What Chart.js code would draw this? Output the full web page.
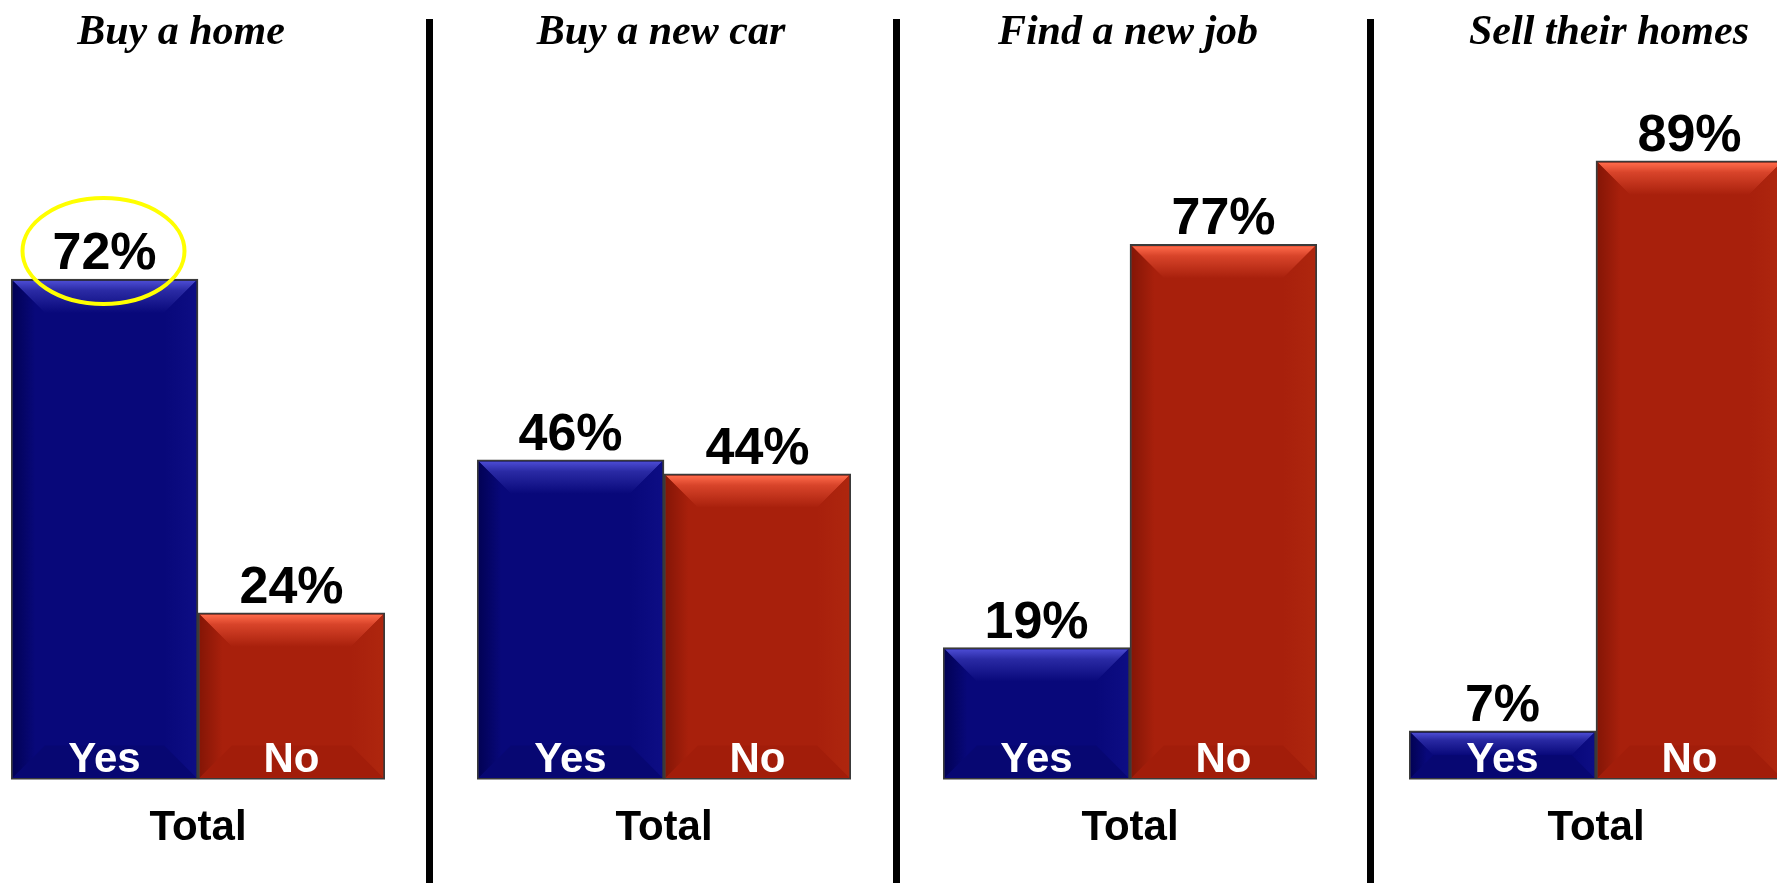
<!DOCTYPE html>
<html>
<head>
<meta charset="utf-8">
<title>Total</title>
<script src="https://cdn.jsdelivr.net/npm/chart.js@4.4.1/dist/chart.umd.min.js"></script>
<style>
  html, body {
    margin: 0;
    padding: 0;
    background: #ffffff;
  }
  #board {
    position: relative;
    width: 1777px;
    height: 883px;
    overflow: hidden;
    background: #ffffff;
  }
  .panel {
    position: absolute;
    top: 0;
    height: 883px;
  }
  .divider {
    position: absolute;
    top: 19px;
    bottom: 0;
    width: 7px;
    background: #000000;
  }
</style>
</head>
<body>
<div id="board">
  <div class="divider" style="left:426px"></div>
  <div class="divider" style="left:893px"></div>
  <div class="divider" style="left:1367px"></div>
</div>
<script>
const panelTitles = ["Buy a home", "Buy a new car", "Find a new job", "Sell their homes"];
const answerLabels = ["Yes", "No"];
const yesValues = [72, 46, 19, 7];
const noValues = [24, 44, 77, 89];
const groupLabel = "Total";

// the circled figure: first panel, "Yes" bar
const highlightPanel = 0;
const highlightBar = 0;

const SANS = "'Liberation Sans', Arial, sans-serif";
const SERIF = "'Liberation Serif', 'Times New Roman', serif";

// panel layout: centre of each Yes/No pair, and how far its heading sits off that centre
const PANEL_CENTERS = [198, 664, 1130, 1596];
const TITLE_SHIFT = [-17, -3, -2, 13];
const PANEL_WIDTH = 466;
const SIDE_PAD = 46;

const shades = [
  { base: "#08087a", light: "#4b4bd2", mid: "#2a2aa4", dark: "#020256", soft: "#0d0d84", low: "#070772" },
  { base: "#a8200c", light: "#ff6a4a", mid: "#d8442a", dark: "#861606", soft: "#ae260e", low: "#a21d0a" },
];

const BEVEL = 32;
const EDGE = 2;

function fillQuad(ctx, pts, style) {
  ctx.beginPath();
  ctx.moveTo(pts[0][0], pts[0][1]);
  for (let i = 1; i < pts.length; i++) {
    ctx.lineTo(pts[i][0], pts[i][1]);
  }
  ctx.closePath();
  ctx.fillStyle = style;
  ctx.fill();
}

// raised "button" look on every bar
const bevelPlugin = {
  id: "bevel",
  afterDatasetsDraw(chart) {
    const ctx = chart.ctx;
    const meta = chart.getDatasetMeta(0);
    meta.data.forEach((bar, idx) => {
      const { x, y, base, width } = bar.getProps(["x", "y", "base", "width"], true);
      const shade = shades[idx];
      const l = x - width / 2 + EDGE;
      const r = x + width / 2 - EDGE;
      const t = y + EDGE;
      const b = base - EDGE;
      const d = Math.min(BEVEL, (b - t) / 2, (r - l) / 2);

      ctx.save();

      const topGrad = ctx.createLinearGradient(0, t, 0, t + d);
      topGrad.addColorStop(0, shade.light);
      topGrad.addColorStop(0.3, shade.mid);
      topGrad.addColorStop(1, shade.base);
      fillQuad(ctx, [[l, t], [r, t], [r - d, t + d], [l + d, t + d]], topGrad);

      const leftGrad = ctx.createLinearGradient(l, 0, l + d, 0);
      leftGrad.addColorStop(0, shade.dark);
      leftGrad.addColorStop(0.7, shade.base);
      fillQuad(ctx, [[l, t], [l + d, t + d], [l + d, b - d], [l, b]], leftGrad);

      const rightGrad = ctx.createLinearGradient(r - d, 0, r, 0);
      rightGrad.addColorStop(0, shade.base);
      rightGrad.addColorStop(1, shade.soft);
      fillQuad(ctx, [[r, t], [r, b], [r - d, b - d], [r - d, t + d]], rightGrad);

      fillQuad(ctx, [[l, b], [l + d, b - d], [r - d, b - d], [r, b]], shade.low);

      ctx.restore();
    });
  },
};

const labelPlugin = {
  id: "barText",
  afterDatasetsDraw(chart) {
    const ctx = chart.ctx;
    const meta = chart.getDatasetMeta(0);
    const values = chart.data.datasets[0].data;
    ctx.save();
    ctx.textAlign = "center";
    ctx.textBaseline = "alphabetic";
    meta.data.forEach((bar, idx) => {
      const { x, y, base } = bar.getProps(["x", "y", "base"], true);

      ctx.fillStyle = "#000000";
      ctx.font = `bold 52px ${SANS}`;
      ctx.fillText(`${values[idx]}%`, x, y - 10);

      ctx.fillStyle = "#ffffff";
      ctx.font = `bold 42px ${SANS}`;
      ctx.fillText(chart.data.labels[idx], x, base - 8);

      if (chart.options.panelIndex === highlightPanel && idx === highlightBar) {
        ctx.beginPath();
        ctx.ellipse(x - 1, y - 28, 81, 53, 0, 0, Math.PI * 2);
        ctx.lineWidth = 4;
        ctx.strokeStyle = "#ffff00";
        ctx.stroke();
      }
    });
    ctx.restore();
  },
};

function renderPanel(index) {
  // an empty y axis on one side pulls the heading off the bar pair's centre
  const shift = TITLE_SHIFT[index];
  const spacer = Math.abs(shift) * 2;
  const holder = document.createElement("div");
  holder.className = "panel";
  holder.style.width = `${PANEL_WIDTH + spacer}px`;
  holder.style.left = `${PANEL_CENTERS[index] - PANEL_WIDTH / 2 - (shift < 0 ? spacer : 0)}px`;
  const canvas = document.createElement("canvas");
  holder.appendChild(canvas);
  document.getElementById("board").prepend(holder);

  return new Chart(canvas, {
    type: "bar",
    data: {
      labels: answerLabels,
      datasets: [
        {
          data: [yesValues[index], noValues[index]],
          backgroundColor: [shades[0].base, shades[1].base],
          borderColor: "#3a3a3a",
          borderWidth: 2,
          borderSkipped: false,
          barPercentage: 1,
          categoryPercentage: 1,
        },
      ],
    },
    options: {
      panelIndex: index,
      responsive: true,
      maintainAspectRatio: false,
      animation: false,
      events: [],
      layout: {
        padding: { left: SIDE_PAD, right: SIDE_PAD, top: 0, bottom: 0 },
      },
      plugins: {
        legend: { display: false },
        tooltip: { enabled: false },
        title: {
          display: true,
          text: panelTitles[index],
          color: "#000000",
          font: { family: SERIF, size: 42, weight: "bold", style: "italic" },
          padding: { top: 8, bottom: 26 },
        },
      },
      scales: {
        x: {
          grid: { display: false, drawTicks: false },
          border: { display: false },
          ticks: { display: false },
          title: {
            display: true,
            text: groupLabel,
            color: "#000000",
            font: { family: SANS, size: 42, weight: "bold" },
            padding: { top: 24, bottom: 29 },
          },
        },
        y: {
          display: spacer > 0,
          position: shift < 0 ? "left" : "right",
          min: 0,
          max: 100,
          grid: { display: false, drawTicks: false },
          border: { display: false },
          ticks: { display: false },
          afterFit(scale) {
            scale.width = spacer;
          },
        },
      },
    },
    plugins: [bevelPlugin, labelPlugin],
  });
}

panelTitles.forEach((_, index) => renderPanel(index));
</script>
</body>
</html>
